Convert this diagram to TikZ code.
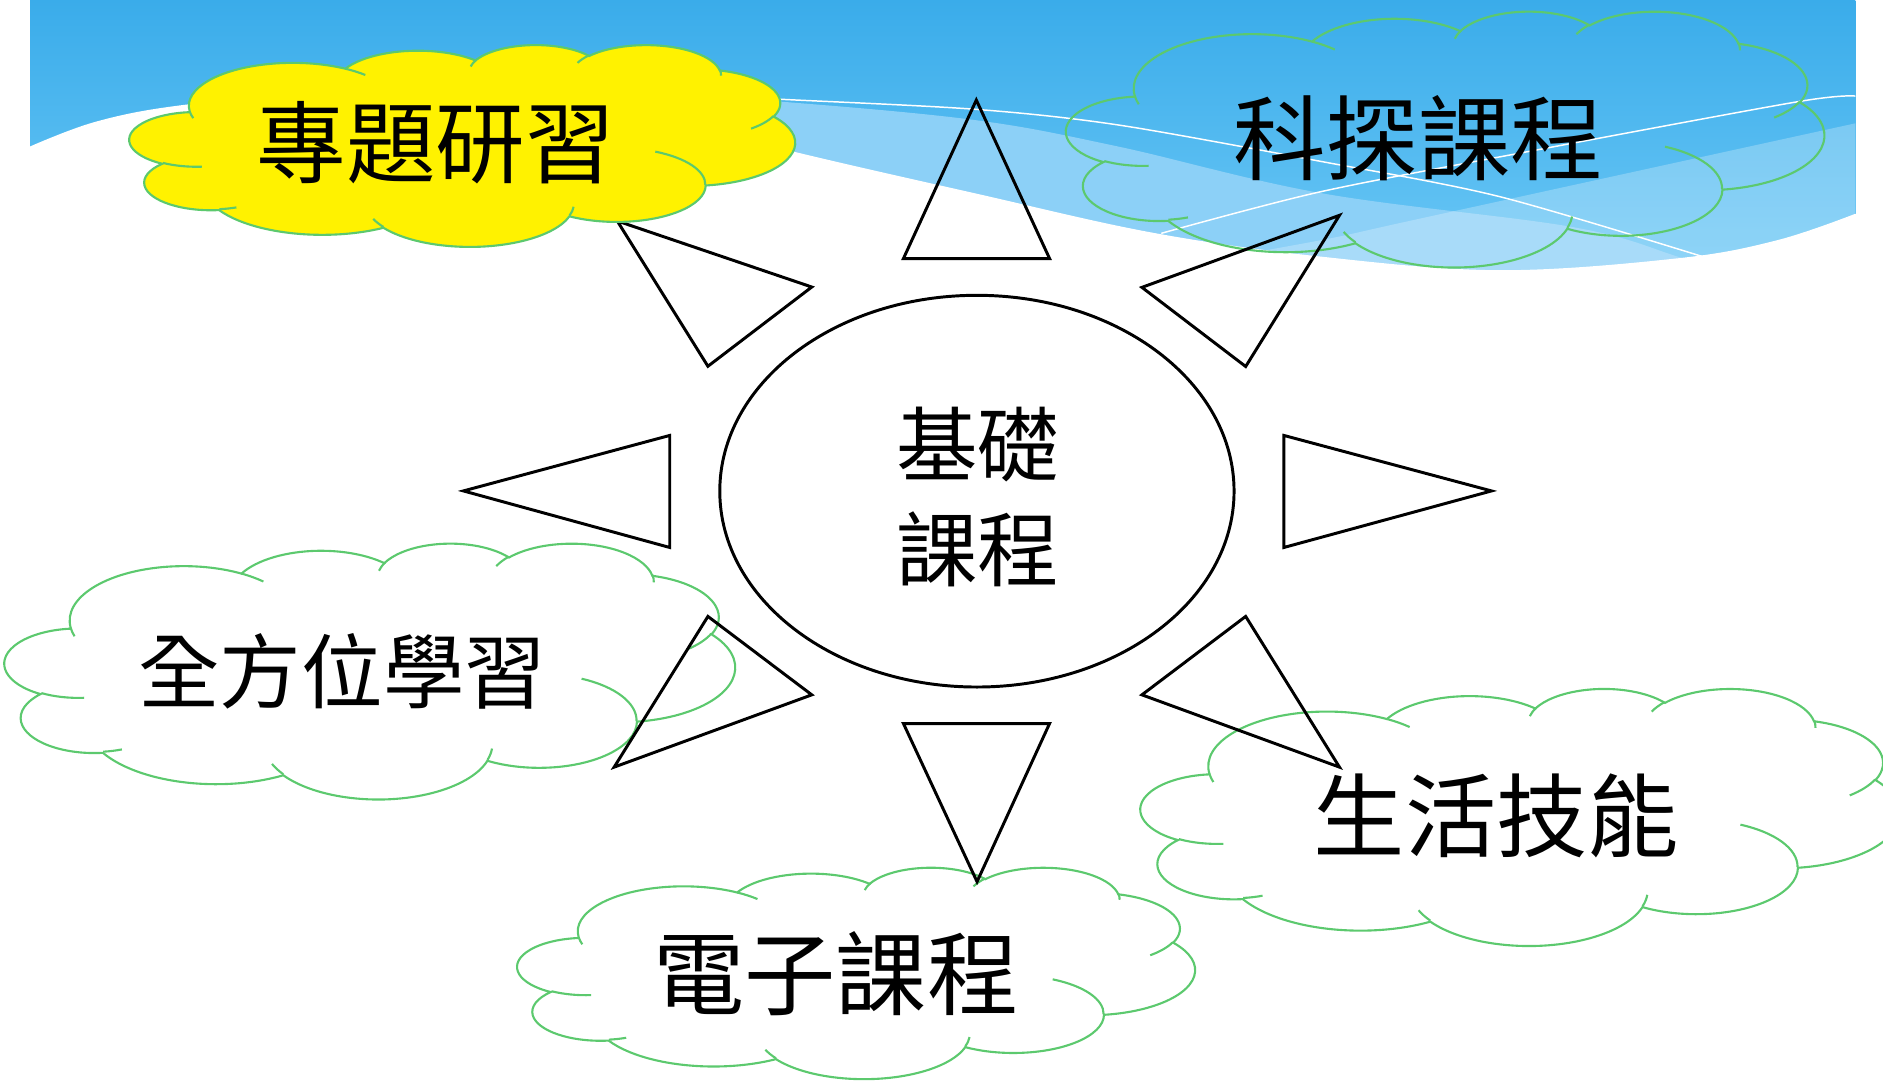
\documentclass[tikz,border=0pt]{standalone}
\usepackage{fontspec}
\newfontfamily\cjk{Noto Sans CJK TC}
\usetikzlibrary{shapes.geometric}
\definecolor{skyA}{RGB}{58,172,234}
\definecolor{skyB}{RGB}{108,200,246}
\definecolor{bandA}{RGB}{140,208,247}
\definecolor{cloudgreen}{RGB}{92,201,110}
% DrawingML-style arcTo: wR, hR, start angle (visual), sweep
\newcommand\cloudarc[4]{arc[start angle={atan2(#1*sin(#3),#2*cos(#3))}, delta angle={mod(atan2(#1*sin(#3+#4),#2*cos(#3+#4))-atan2(#1*sin(#3),#2*cos(#3))+720,360)}, x radius=#1, y radius=#2]}
\newcommand\cloudouter{(39.00,143.70)
 \cloudarc{67.53}{91.90}{-190.4875}{123.7805}
 \cloudarc{53.33}{72.67}{-144.1024}{89.9452}
 \cloudarc{43.65}{59.45}{-145.8079}{99.7230}
 \cloudarc{48.57}{65.95}{-130.9861}{117.2417}
 \cloudarc{53.33}{72.73}{-78.7089}{109.0269}
 \cloudarc{67.75}{92.20}{-46.2673}{130.2690}
 \cloudarc{57.85}{78.67}{0.6250}{114.0333}
 \cloudarc{67.52}{92.15}{22.4516}{115.1726}
 \cloudarc{77.20}{105.43}{66.2426}{75.7110}
 \cloudarc{43.60}{59.18}{-274.9421}{146.7356}
 \cloudarc{43.45}{59.45}{-246.8285}{152.5189} -- cycle}
\newcommand\cloudinner{(46.93,261.77) \cloudarc{43.45}{59.45}{86.7420}{26.4295}
 (69.28,348.99) \cloudarc{43.60}{59.18}{73.6105}{11.4475}
 (164.78,390.90) \cloudarc{67.52}{92.15}{137.6242}{14.0811}
 (288.27,347.51) \cloudarc{67.52}{92.15}{6.4533}{15.9984}
 (341.29,229.54) \cloudarc{57.85}{78.67}{-70.2924}{70.9174}
 (417.98,153.54) \cloudarc{53.33}{72.73}{30.3180}{27.7515}
 (383.24,54.26) \cloudarc{48.57}{65.95}{-13.7443}{14.8589}
 (290.78,39.52) \cloudarc{48.57}{65.95}{-149.1815}{18.1954}
 (221.41,47.20) \cloudarc{43.65}{59.45}{-163.4943}{17.6864}
 (140.00,51.92) \cloudarc{67.53}{91.90}{-66.7070}{12.3194}
 (41.27,157.89) \cloudarc{67.53}{91.90}{157.6544}{11.8582}}
\newcommand\drawcloud[5]{%
 \begin{scope}[shift={(#1,#2)},xscale=#3/432,yscale=#4/432]
  \path[cloudline,#5] \cloudouter;
  \draw[cloudline] \cloudinner;
 \end{scope}}
\begin{document}
\begin{tikzpicture}[x=0.01cm,y=-0.01cm,
  cloudline/.style={draw=cloudgreen,line width=0.5pt},
  ray/.style={draw=black,line width=0.7pt,line join=miter},
  bigtxt/.style={inner sep=0pt}]
\useasboundingbox (0,0) rectangle (1568,900);
% ---- sky background ----
\shade[top color=skyA,bottom color=skyB] (25,0) rectangle (1545,235);
\fill[bandA] plot[smooth,tension=0.6] coordinates {(560,80) (650.8,84.7) (812,100) (931,122) (1101,161) (1309,189) (1398,214) (1460,235)} -- (1460,235) -- (560,235) -- cycle;
\fill[white,opacity=0.25] plot[smooth] coordinates {(960,225) (1100,200) (1183.6,181.8) (1545,102.7)} -- (1545,235) -- (960,235) -- cycle;
\fill[white] plot[smooth,tension=0.6] coordinates {(25,122) (81,101) (156,87) (300,74) (450,80) (570,102) (661,126.3) (812,161) (961,194) (1101,213.8) (1249,225) (1398,215) (1480,200) (1545,178)} -- (1550,178) -- (1550,320) -- (20,320) -- (20,122) -- cycle;
\draw[white,line width=0.35pt] plot[smooth] coordinates {(600,80) (650.8,82.7) (812,91) (931.4,104.1) (1101,134.6) (1249,163.8) (1422.4,215.1)};
\draw[white,line width=0.35pt] plot[smooth] coordinates {(967,194.3) (1100,159.6) (1279,125) (1497,84.7) (1545,80)};
% ---- clouds without fill ----
\drawcloud{888}{9}{631}{213}{}
\drawcloud{4}{452}{608}{213}{}
\drawcloud{950}{573}{632}{214}{}
\drawcloud{431}{722}{564}{176}{}
% ---- centre and rays ----
\node[ellipse,draw,line width=0.7pt,minimum width=4.28cm,minimum height=3.26cm,inner sep=0pt] (core) at (813.5,409) {};
\draw[ray] (813,83.3) -- (874,215.3) -- (752.3,215.3) -- cycle;
\draw[ray] (813.6,734.2) -- (874,602.5) -- (752.3,602.5) -- cycle;
\draw[ray] (385.9,408.8) -- (557.7,362.6) -- (557.7,455.9) -- cycle;
\draw[ray] (1242,408.8) -- (1069.1,362.6) -- (1069.1,455.9) -- cycle;
\draw[ray] (514,184) -- (676,239) -- (589.5,305) -- cycle;
\draw[ray] (1115.4,179.3) -- (950.9,239.3) -- (1037.3,305.2) -- cycle;
\draw[ray] (511.4,638.8) -- (676,578.6) -- (589.5,513.3) -- cycle;
\draw[ray] (1115.4,638.8) -- (950.9,578.6) -- (1037.3,513.3) -- cycle;
% ---- filled cloud ----
\drawcloud{108}{37}{554}{168}{fill=yellow}
% ---- texts ----
\node[bigtxt,align=center,font=\fontsize{19.3pt}{25pt}\cjk] (coretext) at (814,414) {基礎\\課程};
\node[bigtxt,font=\fontsize{21.2pt}{25pt}\cjk] (t1) at (363,119) {專題研習};
\node[bigtxt,font=\fontsize{21.9pt}{25pt}\cjk] (t2) at (1181,115) {科探課程};
\node[bigtxt,font=\fontsize{19.3pt}{25pt}\cjk] (t3) at (285,559) {全方位學習};
\node[bigtxt,font=\fontsize{21.6pt}{25pt}\cjk] (t4) at (1246,679) {生活技能};
\node[bigtxt,font=\fontsize{21.6pt}{25pt}\cjk] (t5) at (696,811) {電子課程};
\end{tikzpicture}
\end{document}
